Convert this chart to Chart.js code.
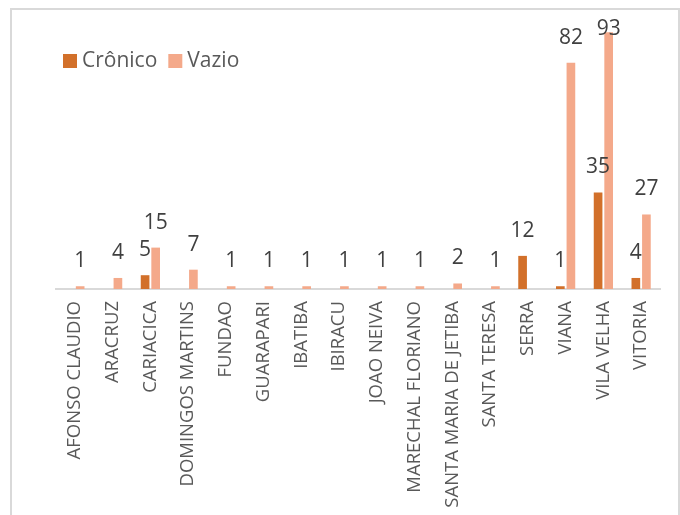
<!DOCTYPE html>
<html>
<head>
<meta charset="utf-8">
<script src="https://cdn.jsdelivr.net/npm/chart.js@4"></script>
<style>
  body { margin: 0; background: #fff; overflow: hidden; }
  #frame { position: absolute; left: 10px; top: 8px; width: 666px; height: 600px; border: 2px solid #d9d9d9; }
  #wrap { position: absolute; left: 0; top: 0; width: 680px; height: 515px; }
</style>
</head>
<body>
<div id="frame"></div>
<div id="wrap"><canvas id="myChart"></canvas></div>
<script>
const municipios = ['AFONSO CLAUDIO', 'ARACRUZ', 'CARIACICA', 'DOMINGOS MARTINS', 'FUNDAO', 'GUARAPARI',
  'IBATIBA', 'IBIRACU', 'JOAO NEIVA', 'MARECHAL FLORIANO', 'SANTA MARIA DE JETIBA', 'SANTA TERESA',
  'SERRA', 'VIANA', 'VILA VELHA', 'VITORIA'];
const cronico = [null, null, 5, null, null, null, null, null, null, null, null, null, 12, 1, 35, 4];
const vazio = [1, 4, 15, 7, 1, 1, 1, 1, 1, 1, 2, 1, null, 82, 93, 27];

const font = "'Open Sans', sans-serif";

// value labels above the bars + legend inside the plot
const labelsPlugin = {
  id: 'labels',
  afterDatasetsDraw(chart) {
    const c = chart.ctx;
    c.save();
    c.font = '21px ' + font;
    c.fillStyle = '#404040';
    c.textAlign = 'center';
    c.textBaseline = 'alphabetic';
    chart.data.datasets.forEach((ds, i) => {
      chart.getDatasetMeta(i).data.forEach((bar, j) => {
        const v = ds.data[j];
        if (v == null) return;
        const y = Math.max(bar.y - 19, 35);
        c.fillText(v, bar.x, y);
      });
    });
    // legend
    c.font = '21px ' + font;
    c.textAlign = 'left';
    c.textBaseline = 'middle';
    let x = 63;
    chart.data.datasets.forEach(ds => {
      c.fillStyle = ds.backgroundColor;
      c.fillRect(x, 54, 14, 14);
      c.fillStyle = '#595959';
      c.fillText(ds.label, x + 19, 61);
      x += 19 + c.measureText(ds.label).width + 11;
    });
    c.restore();
  }
};

const ctx = document.getElementById('myChart');

new Chart(ctx, {
  type: 'bar',
  data: {
    labels: municipios,
    datasets: [
      {
        label: 'Crônico',
        data: cronico,
        backgroundColor: '#D2702A',
        categoryPercentage: 0.56,
        barPercentage: 0.82
      },
      {
        label: 'Vazio',
        data: vazio,
        backgroundColor: '#F4A98A',
        categoryPercentage: 0.56,
        barPercentage: 0.82
      }
    ]
  },
  plugins: [labelsPlugin],
  options: {
    responsive: true,
    maintainAspectRatio: false,
    animation: false,
    layout: { padding: { left: 56, right: 20, top: 13, bottom: 0 } },
    plugins: {
      legend: { display: false },
      tooltip: { enabled: false }
    },
    scales: {
      x: {
        grid: { display: false, drawTicks: false },
        border: { display: true, color: '#d9d9d9', width: 2 },
        ticks: {
          color: '#595959',
          font: { family: font, size: 18.5 },
          minRotation: 90,
          maxRotation: 90,
          autoSkip: false,
          padding: 12
        },
        afterFit(scale) { scale.height = 226; }
      },
      y: {
        display: false,
        min: 0,
        max: 100
      }
    }
  }
});
</script>
</body>
</html>
